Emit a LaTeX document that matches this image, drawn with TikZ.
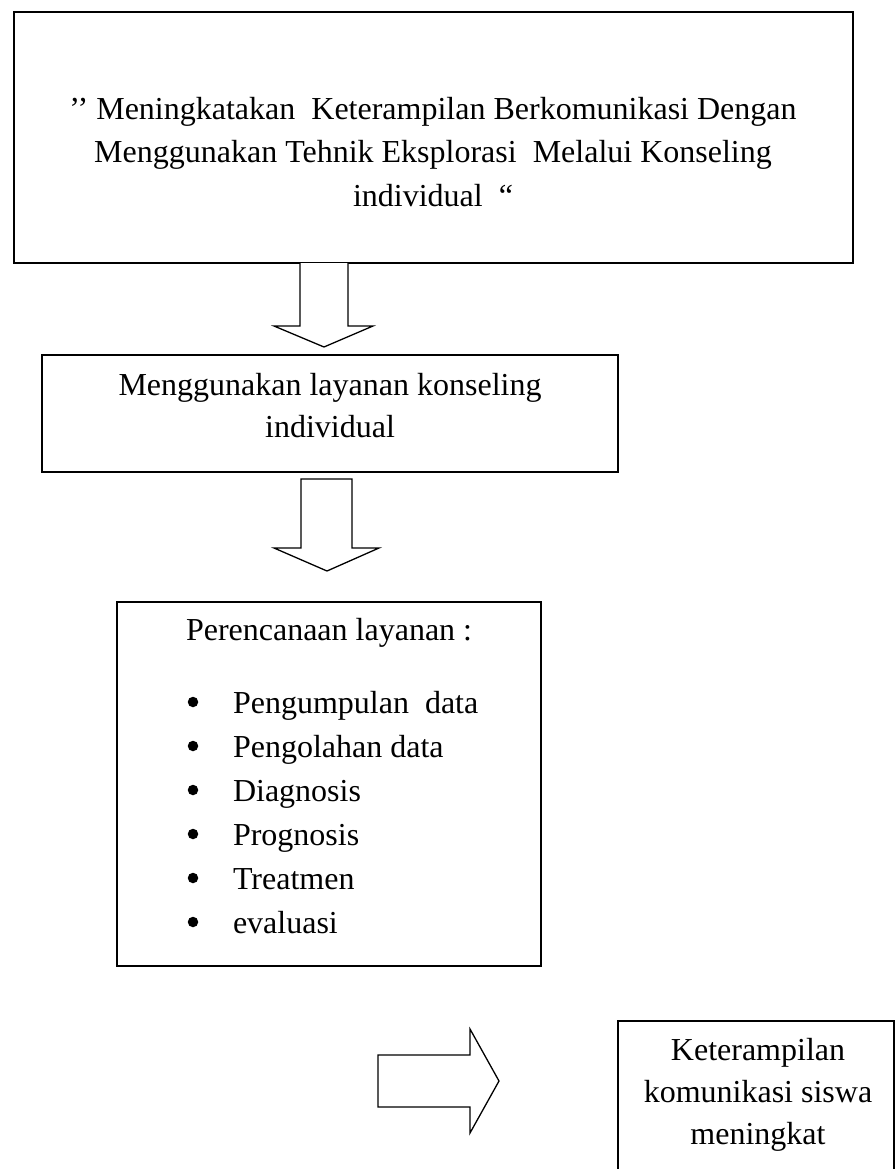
\documentclass[tikz,border=0pt]{standalone}
\usepackage{fontspec}
\setmainfont{Liberation Serif}
\begin{document}
\begin{tikzpicture}[x=1pt,y=-1pt,
  box/.style={draw=black,line width=1.5pt,inner sep=0pt,outer sep=0pt},
  txt/.style={font=\fontsize{32}{43}\selectfont,inner sep=0pt,outer sep=0pt},
  dot/.style={circle,fill=black,inner sep=0pt,minimum size=10.5pt},
  bigarrow/.style={draw=black,line width=1.3pt,fill=white,line join=miter}]
\path[use as bounding box] (0,0) rectangle (896,1169);
\clip (0,0) rectangle (896,1169);
% boxes
\node[box,minimum width=839pt,minimum height=251pt] (b1) at (433.5,137.5) {};
\node[box,minimum width=576pt,minimum height=117pt] (b2) at (330,413.5) {};
\node[box,minimum width=424pt,minimum height=364pt] (b3) at (329,784) {};
\node[box,minimum width=276pt,minimum height=180pt] (b4) at (756,1111) {};
% box 1 text
\node[txt,anchor=base] (t1) at (433,120) {’’ Meningkatakan\ \ Keterampilan Berkomunikasi Dengan};
\node[txt,anchor=base] (t2) at (433,163) {Menggunakan Tehnik Eksplorasi\ \ Melalui Konseling};
\node[txt,anchor=base] (t3) at (433,206) {individual\ \ “};
% box 2 text
\node[txt,anchor=base] (u1) at (330,395) {Menggunakan layanan konseling};
\node[txt,anchor=base] (u2) at (330,437) {individual};
% box 3 text
\node[txt,anchor=base west] (h) at (186,640) {Perencanaan layanan :};
\foreach \i/\t in {0/{Pengumpulan\ \ data},1/{Pengolahan data},2/Diagnosis,3/Prognosis,4/Treatmen,5/evaluasi}{
  \node[dot] (bul\i) at (193,702+44*\i) {};
  \node[txt,anchor=base west] (it\i) at (233,713+44*\i) {\t};
}
% box 4 text
\node[txt,anchor=base] (v1) at (758,1060) {Keterampilan};
\node[txt,anchor=base] (v2) at (758,1102) {komunikasi siswa};
\node[txt,anchor=base] (v3) at (758,1144) {meningkat};
% block arrows
\draw[bigarrow] (300,263) -- (300,326) -- (274,326) -- (324,347) -- (373,326) -- (348,326) -- (348,263);
\draw[bigarrow] (301,479) -- (301,548) -- (274,548) -- (327,571) -- (379,548) -- (352,548) -- (352,479) -- cycle;
\draw[bigarrow] (378,1055) -- (470,1055) -- (470,1029) -- (499,1081) -- (470,1133) -- (470,1107) -- (378,1107) -- cycle;
\end{tikzpicture}
\end{document}
